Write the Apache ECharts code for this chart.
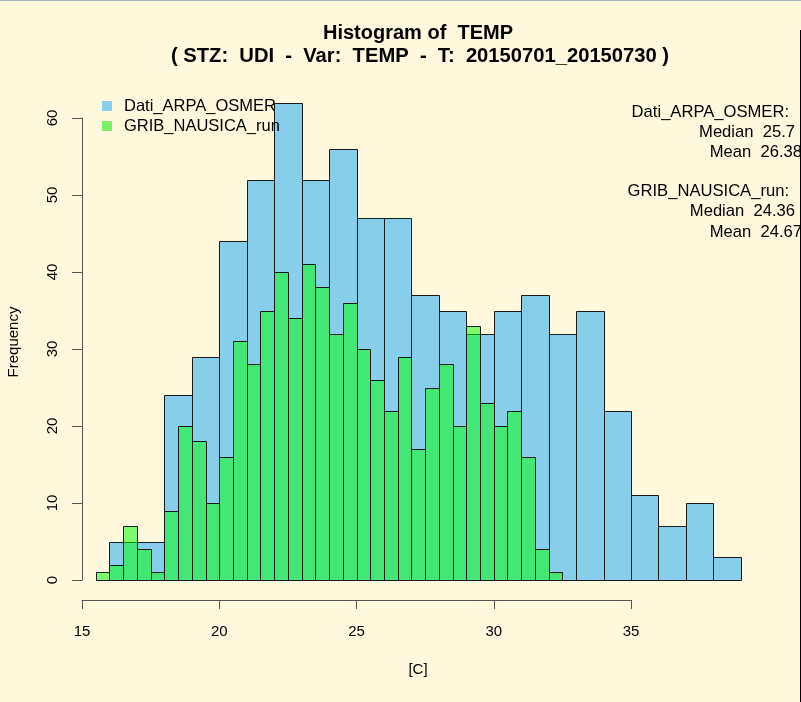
<!DOCTYPE html>
<html>
<head>
<meta charset="utf-8">
<script src="https://cdn.jsdelivr.net/npm/echarts@6/dist/echarts.min.js"></script>
<style>
html,body{margin:0;padding:0;background:#FFF8DC;}
#c{width:801px;height:702px;}
</style>
</head>
<body>
<div id="c"></div>
<script>
// ---- data ----
const seriesNames = ['Dati_ARPA_OSMER', 'GRIB_NAUSICA_run'];
const blueStart = 16;
const blueWidth = 1;
const blueCounts = [5, 5, 24, 29, 44, 52, 62, 52, 56, 47, 47, 37, 35, 32, 35, 37, 32, 35, 22, 11, 7, 10, 3];
const greenStart = 15.5;
const greenWidth = 0.5;
const greenCounts = [1, 2, 7, 4, 1, 9, 20, 18, 10, 16, 31, 28, 35, 40, 34, 41, 38, 32, 36, 30, 26, 22, 29, 17, 25, 28, 20, 33, 23, 20, 22, 16, 4, 1];
const xTicks = [15, 20, 25, 30, 35];
const yTicks = [0, 10, 20, 30, 40, 50, 60];
const statsLines = [
  'Dati_ARPA_OSMER:', 'Median  25.7', 'Mean  26.38',
  'GRIB_NAUSICA_run:', 'Median  24.36', 'Mean  24.67'
];

function toBins(start, width, counts) {
  return counts.map((c, i) => [start + i * width, start + (i + 1) * width, c]);
}

const blueColor = '#87CEEB';
const greenColor = 'rgba(0,255,0,0.5)';
const font = '"Liberation Sans", Arial, Helvetica, sans-serif';

function renderBar(fill) {
  return function (params, api) {
    const x0 = api.value(0), x1 = api.value(1), c = api.value(2);
    const p0 = api.coord([x0, c]);
    const p1 = api.coord([x1, 0]);
    const l = Math.round(p0[0]) + 0.5, r = Math.round(p1[0]) + 0.5;
    const t = Math.round(p0[1]) + 0.5, b = Math.round(p1[1]) + 0.5;
    return {
      type: 'rect',
      shape: { x: l, y: t, width: r - l, height: b - t },
      style: { fill: fill, stroke: '#1a1a1a', lineWidth: 1 }
    };
  };
}

const chart = echarts.init(document.getElementById('c'), null, { renderer: 'canvas' });

const statsY = [112, 132, 152, 191, 211, 232];
const statsRight = [789, 795, 802, 789, 795, 802];

const graphics = [];
graphics.push({
  type: 'text', x: 418, y: 33,
  style: { text: 'Histogram of  TEMP', font: 'bold 20px ' + font, fill: '#000', textAlign: 'center', textVerticalAlign: 'middle' }
});
graphics.push({
  type: 'text', x: 420, y: 56,
  style: { text: '( STZ:  UDI  -  Var:  TEMP  -  T:  20150701_20150730 )', font: 'bold 20.2px ' + font, fill: '#000', textAlign: 'center', textVerticalAlign: 'middle' }
});
graphics.push({
  type: 'text', x: 418, y: 670,
  style: { text: '[C]', font: '15px ' + font, fill: '#000', textAlign: 'center', textVerticalAlign: 'middle' }
});
graphics.push({
  type: 'text', x: 14, y: 342, rotation: Math.PI / 2,
  style: { text: 'Frequency', font: '15px ' + font, fill: '#000', textAlign: 'center', textVerticalAlign: 'middle' }
});
statsLines.forEach((s, i) => {
  graphics.push({
    type: 'text', x: statsRight[i], y: statsY[i],
    style: { text: s, font: '16.6px ' + font, fill: '#000', textAlign: 'right', textVerticalAlign: 'middle' }
  });
});
graphics.push({ type: 'line', shape: { x1: 800.5, y1: 30, x2: 800.5, y2: 702 }, style: { stroke: '#000', lineWidth: 1 } });
graphics.push({ type: 'line', shape: { x1: 0, y1: 0.5, x2: 801, y2: 0.5 }, style: { stroke: '#a7b6bd', lineWidth: 1 } });

const option = {
  backgroundColor: '#FFF8DC',
  animation: false,
  grid: [
    { left: 82, top: 118, width: 686.25, height: 462 },
    { left: 82, top: 590, width: 549, height: 10 }
  ],
  xAxis: [
    { type: 'value', gridIndex: 0, min: 15, max: 40, show: false },
    {
      type: 'value', gridIndex: 1, min: xTicks[0], max: xTicks[xTicks.length - 1], interval: 5,
      position: 'bottom',
      axisLine: { show: true, lineStyle: { color: '#555', width: 1 } },
      axisTick: { show: true, inside: false, length: 9, lineStyle: { color: '#555' } },
      axisLabel: { color: '#000', fontSize: 15, fontFamily: font, margin: 24,
        formatter: v => xTicks.indexOf(v) >= 0 ? String(v) : '' },
      splitLine: { show: false }
    }
  ],
  yAxis: [
    {
      type: 'value', gridIndex: 0, min: yTicks[0], max: yTicks[yTicks.length - 1], interval: 10,
      position: 'left',
      axisLine: { show: true, lineStyle: { color: '#555', width: 1 } },
      axisTick: { show: true, inside: false, length: 10, lineStyle: { color: '#555' } },
      axisLabel: { color: '#000', fontSize: 15, fontFamily: font, rotate: 90, margin: 22,
        formatter: v => yTicks.indexOf(v) >= 0 ? String(v) : '' },
      splitLine: { show: false }
    },
    { type: 'value', gridIndex: 1, min: 0, max: 1, show: false }
  ],
  legend: {
    orient: 'vertical', left: 97, top: 91,
    itemWidth: 10, itemHeight: 10, itemGap: 0,
    icon: 'rect',
    textStyle: { fontSize: 16.5, fontFamily: font, color: '#000', lineHeight: 20, padding: [0, 0, 0, 7] },
    data: [
      { name: seriesNames[0], itemStyle: { color: blueColor, borderWidth: 0 } },
      { name: seriesNames[1], itemStyle: { color: '#77f066', borderWidth: 0 } }
    ],
    selectedMode: false
  },
  series: [
    {
      name: seriesNames[0], type: 'custom', xAxisIndex: 0, yAxisIndex: 0,
      renderItem: renderBar(blueColor), clip: false,
      itemStyle: { color: blueColor },
      encode: { x: [0, 1], y: 2 },
      data: toBins(blueStart, blueWidth, blueCounts)
    },
    {
      name: seriesNames[1], type: 'custom', xAxisIndex: 0, yAxisIndex: 0,
      renderItem: renderBar(greenColor), clip: false,
      itemStyle: { color: '#77f066' },
      encode: { x: [0, 1], y: 2 },
      data: toBins(greenStart, greenWidth, greenCounts)
    }
  ],
  graphic: graphics
};
chart.setOption(option);
</script>
</body>
</html>
